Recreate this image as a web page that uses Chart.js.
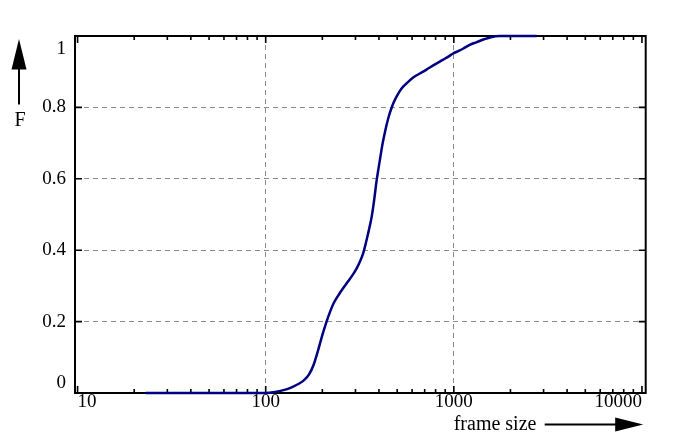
<!DOCTYPE html>
<html><head><meta charset="utf-8">
<script src="https://cdn.jsdelivr.net/npm/chart.js@4.4.0/dist/chart.umd.min.js"></script>
<style>html,body{margin:0;padding:0;background:#fff}#wrap{width:694px;height:443px;position:relative}</style>
</head><body><div id="wrap"><canvas id="c"></canvas></div>
<script>
// ---- data ----
const frameSize = [23, 60, 100, 110, 120, 130, 140, 150, 160, 170, 180, 190, 200, 210, 220, 230, 245, 260, 275, 290, 305, 318, 330, 340, 350, 358, 366, 377, 388, 398, 408, 418, 430, 440, 453, 467, 480, 496, 515, 538, 570, 608, 660, 716, 790, 879, 940, 991, 1060, 1124, 1200, 1325, 1450, 1556, 1754, 2200, 2750];
const cdfF = [0, 0, 0.000, 0.002, 0.006, 0.011, 0.018, 0.026, 0.036, 0.052, 0.080, 0.120, 0.162, 0.198, 0.228, 0.252, 0.276, 0.296, 0.314, 0.331, 0.350, 0.370, 0.392, 0.418, 0.446, 0.469, 0.494, 0.540, 0.592, 0.630, 0.665, 0.698, 0.730, 0.753, 0.778, 0.799, 0.815, 0.830, 0.845, 0.858, 0.871, 0.884, 0.895, 0.906, 0.920, 0.934, 0.943, 0.951, 0.958, 0.965, 0.974, 0.983, 0.991, 0.996, 1.0, 1.0, 1.0];
const xTickValues = [10, 100, 1000, 10000];
const xTickLabels = ['10', '100', '1000', '10000'];
const xMinorValues = [20, 30, 40, 50, 60, 70, 80, 90, 200, 300, 400, 500, 600, 700, 800, 900, 2000, 3000, 4000, 5000, 6000, 7000, 8000, 9000];
const yTickValues = [0, 0.2, 0.4, 0.6, 0.8, 1];
const yTickLabels = ['0', '0.2', '0.4', '0.6', '0.8', '1'];
const xTitle = 'frame size';
const yTitle = 'F';

const SERIF = "'Liberation Serif', 'DejaVu Serif', serif";
const points = frameSize.map((v, i) => ({x: v, y: cdfF[i]}));

function yLabelFor(v) {
  const i = yTickValues.findIndex(t => Math.abs(t - v) < 1e-6);
  return i < 0 ? '' : yTickLabels[i];
}

const framePlugin = {
  id: 'frame',
  beforeDatasetsDraw(chart) {
    const {ctx, chartArea: a, scales: {x, y}} = chart;
    ctx.save();
    ctx.strokeStyle = '#000';
    ctx.lineWidth = 2;
    ctx.strokeRect(a.left, a.top, a.right - a.left, a.bottom - a.top);
    ctx.lineWidth = 1.6;
    ctx.beginPath();
    for (const v of xTickValues) {
      const px = x.getPixelForValue(v);
      if (px < a.left + 1 || px > a.right - 1) continue;
      ctx.moveTo(px, a.bottom); ctx.lineTo(px, a.bottom - 7);
      ctx.moveTo(px, a.top); ctx.lineTo(px, a.top + 7);
    }
    for (const v of xMinorValues) {
      const px = x.getPixelForValue(v);
      ctx.moveTo(px, a.bottom); ctx.lineTo(px, a.bottom - 4);
      ctx.moveTo(px, a.top); ctx.lineTo(px, a.top + 4);
    }
    for (const v of yTickValues) {
      const py = y.getPixelForValue(v);
      if (py < a.top + 1 || py > a.bottom - 1) continue;
      ctx.moveTo(a.left, py); ctx.lineTo(a.left + 7, py);
      ctx.moveTo(a.right, py); ctx.lineTo(a.right - 7, py);
    }
    ctx.stroke();
    ctx.restore();
  },
  afterDraw(chart) {
    const {ctx, chartArea: a} = chart;
    ctx.save();
    ctx.fillStyle = '#000';
    ctx.strokeStyle = '#000';
    // vertical F arrow
    const ax = a.left - 56;
    ctx.lineWidth = 2;
    ctx.beginPath(); ctx.moveTo(ax, a.top + 68.5); ctx.lineTo(ax, a.top + 32.5); ctx.stroke();
    ctx.beginPath();
    ctx.moveTo(ax, a.top + 3);
    ctx.lineTo(ax - 7.5, a.top + 33.5);
    ctx.lineTo(ax + 7.5, a.top + 33.5);
    ctx.closePath(); ctx.fill();
    ctx.font = '20px ' + SERIF;
    ctx.textAlign = 'center';
    ctx.textBaseline = 'alphabetic';
    ctx.fillText(yTitle, ax + 1, a.top + 90);
    // horizontal frame size arrow
    const ay = a.bottom + 31.5;
    const tip = a.right - 2.5;
    ctx.beginPath(); ctx.moveTo(a.right - 101, ay); ctx.lineTo(tip - 26, ay); ctx.stroke();
    ctx.beginPath();
    ctx.moveTo(tip, ay);
    ctx.lineTo(tip - 28, ay - 7);
    ctx.lineTo(tip - 28, ay + 7);
    ctx.closePath(); ctx.fill();
    ctx.textAlign = 'left';
    ctx.fillText(xTitle, a.right - 192, a.bottom + 37);
    ctx.restore();
  }
};

new Chart(document.getElementById('c'), {
  type: 'line',
  data: {
    datasets: [{
      data: points,
      borderColor: '#000080',
      borderWidth: 2.5,
      pointRadius: 0,
      fill: false,
      cubicInterpolationMode: 'monotone',
      clip: 6
    }]
  },
  options: {
    responsive: true,
    maintainAspectRatio: false,
    animation: false,
    devicePixelRatio: 1,
    layout: {padding: {left: 0, top: 36, right: 48.3, bottom: 0}},
    plugins: {legend: {display: false}, tooltip: {enabled: false}},
    scales: {
      x: {
        type: 'logarithmic',
        position: 'bottom',
        min: 9.69,
        max: 10470,
        afterBuildTicks(scale) { scale.ticks = xTickValues.map(v => ({value: v})); },
        afterFit(scale) { scale.height = 50; },
        ticks: {
          autoSkip: false,
          maxRotation: 0,
          align: 'inner',
          padding: 0,
          color: '#000',
          font: {family: SERIF, size: 19, lineHeight: 1.0},
          callback(v) { const i = xTickValues.indexOf(v); return i < 0 ? '' : xTickLabels[i]; }
        },
        grid: {
          drawTicks: false,
          lineWidth: 1,
          color(ctx) {
            const v = ctx.tick ? ctx.tick.value : null;
            return (v === 10 || v === 10000) ? 'rgba(0,0,0,0)' : '#8a8a8a';
          }
        },
        border: {display: false, dash: [5, 4]}
      },
      y: {
        type: 'linear',
        position: 'left',
        min: 0,
        max: 1,
        afterBuildTicks(scale) { scale.ticks = yTickValues.map(v => ({value: v})); },
        afterFit(scale) { scale.width = 75; },
        ticks: {
          padding: 9,
          color: '#000',
          font(ctx) {
            const v = ctx.tick ? ctx.tick.value : null;
            let lh = 1.2;
            if (v === 1) lh = '26px';
            else if (v === 0) lh = '19.5px';
            return {family: SERIF, size: 19, lineHeight: lh};
          },
          callback(v) {
            const s = yLabelFor(v);
            if (Math.abs(v - 1) < 1e-6) return ['', s];
            if (Math.abs(v) < 1e-6) return [s, ''];
            return s;
          }
        },
        grid: {
          drawTicks: false,
          lineWidth: 1,
          color(ctx) {
            const v = ctx.tick ? ctx.tick.value : null;
            return (v === 0 || v === 1) ? 'rgba(0,0,0,0)' : '#8a8a8a';
          }
        },
        border: {display: false, dash: [5, 4]}
      }
    }
  },
  plugins: [framePlugin]
});
</script>
</body></html>
